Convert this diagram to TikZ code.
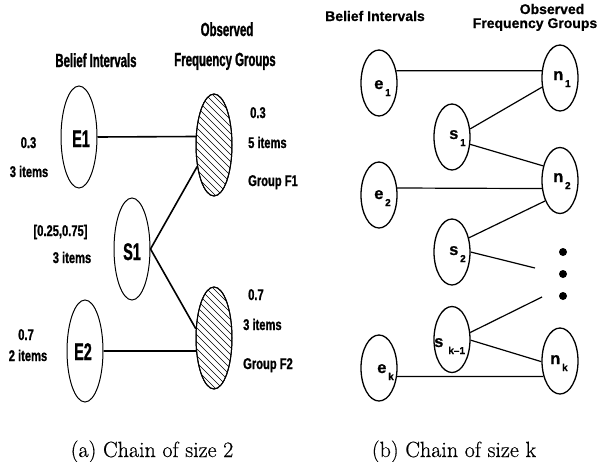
\documentclass[tikz,border=0pt]{standalone}
\usepackage{fontspec}
\usetikzlibrary{shapes.geometric}
\newfontfamily\hA{Liberation Sans}[FakeStretch=0.6,FakeBold=1.2]
\newfontfamily\hB{Liberation Sans}[FakeStretch=0.72,FakeBold=1]
\newfontfamily\hR{Liberation Sans}[FakeBold=0.6]
\newfontfamily\capfont{Latin Modern Roman}[FakeBold=0.5]
\newcommand\mysub[3][1.8pt]{#2\hspace{#1}\raisebox{-7pt}{\fontsize{10}{10}\selectfont #3}}
\begin{document}
\begin{tikzpicture}[x=1pt,y=-1pt,
  lhead/.style={font=\fontsize{19}{19}\hA\bfseries, inner sep=0, anchor=base},
  ldata/.style={font=\fontsize{15.5}{15.5}\hB\bfseries, inner sep=0, anchor=base},
  ldataw/.style={ldata, anchor=base west},
  lbig/.style={font=\fontsize{24}{24}\hA\bfseries, inner sep=0, anchor=base},
  rhead/.style={font=\fontsize{14}{14}\hR\bfseries, inner sep=0, anchor=base},
  rlab/.style={font=\fontsize{16.5}{16.5}\hR\bfseries, inner sep=0, anchor=base west},
  capt/.style={font=\fontsize{22}{26}\capfont, inner sep=0, anchor=base},
  bigell/.style={ellipse, draw, line width=1pt, inner sep=0, minimum width=36pt, minimum height=102pt},
  smell/.style={ellipse, draw, line width=1.3pt, inner sep=0, minimum width=36pt, minimum height=66pt},
  lconn/.style={line width=1.6pt},
  rconn/.style={line width=1.2pt},
  hatch/.style={line width=0.7pt},
  dot/.style={circle, fill, inner sep=0, minimum size=8pt}]
\useasboundingbox (0,0) rectangle (600,461);
% ---------- panel (a) ----------
\node[lhead] (ha1) at (96,67) {Belief Intervals};
\node[lhead] (ha2) at (227,36) {Observed};
\node[lhead] (ha3) at (225,66) {Frequency Groups};
\node[bigell] (E1) at (79,137) {};
\node[bigell] (S1) at (132,249) {};
\node[bigell] (E2) at (85,351) {};
\node[bigell] (F1) at (214,145) {};
\node[bigell] (F2) at (214,338) {};
\begin{scope}
  \clip (214,145) ellipse [x radius=18, y radius=51];
  \foreach \k in {-16,...,16} \draw[hatch] (214+\k*7-70,145-70) -- ++(140,140);
\end{scope}
\begin{scope}
  \clip (214,338) ellipse [x radius=18, y radius=51];
  \foreach \k in {-16,...,16} \draw[hatch] (214+\k*7-70,338-70) -- ++(140,140);
\end{scope}
\draw[line width=1pt] (F1) ellipse [x radius=18, y radius=51];
\draw[line width=1pt] (F2) ellipse [x radius=18, y radius=51];
\node[lbig] (lE1) at (81,147) {E1};
\node[lbig] (lS1) at (132,260) {S1};
\node[lbig] (lE2) at (83,360) {E2};
\node[ldata] (a1) at (28.5,148) {0.3};
\node[ldata] (a2) at (29,177) {3 items};
\node[ldataw] (a3) at (250,118) {0.3};
\node[ldataw] (a4) at (248,148) {5 items};
\node[ldataw] (a5) at (248,186) {Group F1};
\node[ldata] (a6) at (60.5,236) {[0.25,0.75]};
\node[ldata] (a7) at (72,263) {3 items};
\node[ldata] (a8) at (26,340) {0.7};
\node[ldata] (a9) at (28,361) {2 items};
\node[ldataw] (a10) at (248,300) {0.7};
\node[ldataw] (a11) at (243,330) {3 items};
\node[ldataw] (a12) at (243,369) {Group F2};
\draw[lconn] (E1.east) -- (F1.155.8);
\draw[lconn] (S1.east) -- (F1.232);
\draw[lconn] (S1.east) -- (F2.153);
\draw[lconn] (E2.east) -- (F2.216.8);
\node[capt] (capa) at (152,457) {(a) Chain of size 2};
% ---------- panel (b) ----------
\node[rhead] (hb1) at (375,21) {Belief Intervals};
\node[rhead] (hb2) at (552,14) {Observed};
\node[rhead] (hb3) at (535,28) {Frequency Groups};
\node[smell] (e1) at (379,83) {};
\node[smell] (e2) at (379,195) {};
\node[smell] (ek) at (379,368) {};
\node[smell] (s1) at (452,137) {};
\node[smell] (s2) at (452,252) {};
\node[smell] (sk) at (452,339.5) {};
\node[smell] (n1) at (560,78) {};
\node[smell] (n2) at (560,180.5) {};
\node[smell] (nk) at (560,361) {};
\node[rlab] (le1) at (374,89) {\mysub{e}{1}};
\node[rlab] (ln1) at (553,80) {\mysub{n}{1}};
\node[rlab] (ls1) at (449,139) {\mysub{s}{1}};
\node[rlab] (le2) at (374,199) {\mysub{e}{2}};
\node[rlab] (ln2) at (553,182) {\mysub{n}{2}};
\node[rlab] (ls2) at (449,255) {\mysub{s}{2}};
\node[rlab] (lsk) at (434,347) {\mysub[5pt]{s}{k\textendash1}};
\node[rlab] (lek) at (377,373) {\mysub{e}{k}};
\node[rlab] (lnk) at (550,364) {\mysub{n}{k}};
\node[dot] (d1) at (563,252) {};
\node[dot] (d2) at (563,274) {};
\node[dot] (d3) at (563,296) {};
\coordinate (c1) at (535,268);
\coordinate (c2) at (542,297);
\draw[rconn] (e1.35.5) -- (n1.158.3);
\draw[rconn] (s1.24.6) -- (n1.207.5);
\draw[rconn] (s1.338.3) -- (n2.139.4);
\draw[rconn] (e2.21.7) -- (n2.204.6);
\draw[rconn] (n2.234) -- (s2.40.7);
\draw[rconn] (s2.0) -- (c1);
\draw[rconn] (c2) -- (sk.21.7);
\draw[rconn] (sk.358) -- (nk.182);
\draw[rconn] (ek.335.4) -- (nk.223);
\node[capt] (capb) at (454,457) {(b) Chain of size k};
\end{tikzpicture}
\end{document}
